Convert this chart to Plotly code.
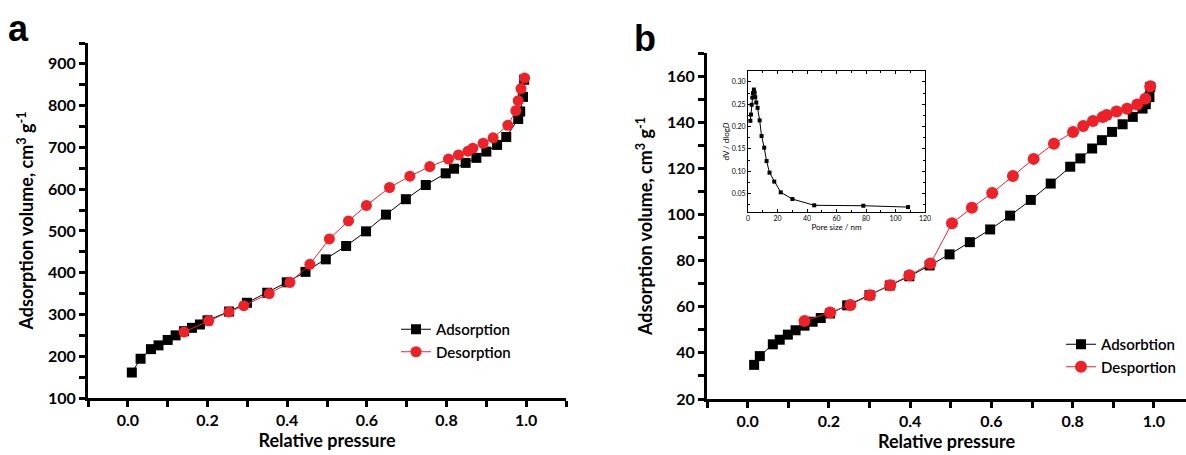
import plotly.graph_objects as go

# panel a: isotherm
a_ads_x = [0.010, 0.032, 0.058, 0.077, 0.100, 0.120, 0.141, 0.161, 0.181, 0.200, 0.254, 0.299, 0.350, 0.399,
           0.446, 0.497, 0.548, 0.598, 0.648, 0.698, 0.748, 0.798, 0.819, 0.848, 0.875, 0.900, 0.927, 0.950,
           0.980, 0.985, 0.992, 0.995]
a_ads_y = [161, 194, 217, 226, 239, 250, 260, 268, 276, 286, 307, 328, 352, 377,
           402, 432, 464, 499, 539, 576, 610, 638, 649, 663, 675, 690, 706, 725,
           768, 786, 821, 862]
a_des_x = [0.141, 0.203, 0.254, 0.291, 0.355, 0.407, 0.457, 0.506, 0.554, 0.599, 0.657, 0.708, 0.758,
           0.805, 0.830, 0.854, 0.866, 0.892, 0.917, 0.954, 0.974, 0.980, 0.987, 0.996]
a_des_y = [258, 285, 306, 321, 350, 377, 420, 481, 524, 561, 604, 631, 654,
           672, 682, 691, 698, 710, 723, 753, 788, 812, 841, 866]

# panel b: isotherm
b_ads_x = [0.016, 0.030, 0.062, 0.079, 0.099, 0.118, 0.140, 0.160, 0.180, 0.203, 0.245, 0.300, 0.350, 0.398,
           0.448, 0.497, 0.547, 0.597, 0.646, 0.697, 0.746, 0.794, 0.819, 0.848, 0.872, 0.897, 0.923, 0.948,
           0.972, 0.980, 0.989, 0.991]
b_ads_y = [34.8, 38.6, 43.7, 45.7, 47.9, 49.8, 51.8, 53.5, 55.1, 57.1, 60.6, 65.0, 69.2, 73.2,
           77.9, 82.7, 88.0, 93.5, 99.5, 106.3, 113.4, 120.7, 124.3, 128.6, 132.2, 135.8, 139.1, 142.3,
           145.9, 147.8, 150.9, 155.3]
b_des_x = [0.140, 0.203, 0.253, 0.301, 0.351, 0.398, 0.450, 0.503, 0.552, 0.602, 0.653, 0.704, 0.754,
           0.801, 0.826, 0.850, 0.874, 0.884, 0.908, 0.934, 0.959, 0.979, 0.991]
b_des_y = [53.8, 57.5, 60.8, 65.0, 69.3, 73.6, 78.7, 96.2, 102.9, 109.3, 116.7, 124.1, 130.7,
           135.8, 138.4, 140.5, 142.3, 143.1, 144.6, 145.8, 147.7, 150.2, 155.6]

# inset: pore size distribution
pore_size = [1.6, 2.0, 2.5, 2.9, 3.4, 4.0, 4.5, 4.9, 5.6, 6.5, 7.9, 9.2, 11.0, 12.6, 14.6, 17.8, 22.2,
             30.1, 44.9, 78.2, 108.5]
dv_dlogd = [0.213, 0.227, 0.249, 0.265, 0.275, 0.283, 0.276, 0.266, 0.254, 0.242, 0.214, 0.179, 0.153,
            0.123, 0.097, 0.077, 0.053, 0.038, 0.024, 0.023, 0.020]

RED = "#ee2028"
FONT = "Lato"
W, H = 1186, 455

fig = go.Figure()

fig.add_trace(go.Scatter(x=a_ads_x, y=a_ads_y, mode="lines+markers", name="Adsorption",
                         line=dict(color="black", width=1),
                         marker=dict(symbol="square", size=10, color="black"),
                         xaxis="x", yaxis="y", legend="legend"))
fig.add_trace(go.Scatter(x=a_des_x, y=a_des_y, mode="lines+markers", name="Desorption",
                         line=dict(color=RED, width=1),
                         marker=dict(symbol="circle", size=11, color=RED),
                         xaxis="x", yaxis="y", legend="legend"))
fig.add_trace(go.Scatter(x=b_ads_x, y=b_ads_y, mode="lines+markers", name="Adsorbtion",
                         line=dict(color="black", width=1),
                         marker=dict(symbol="square", size=10, color="black"),
                         xaxis="x2", yaxis="y2", legend="legend2"))
fig.add_trace(go.Scatter(x=b_des_x, y=b_des_y, mode="lines+markers", name="Desportion",
                         line=dict(color=RED, width=1),
                         marker=dict(symbol="circle", size=12, color=RED),
                         xaxis="x2", yaxis="y2", legend="legend2"))
fig.add_trace(go.Scatter(x=pore_size, y=dv_dlogd, mode="lines+markers", showlegend=False,
                         line=dict(color="black", width=1),
                         marker=dict(symbol="square", size=4, color="black"),
                         xaxis="x3", yaxis="y3"))

axis_common = dict(showline=True, linewidth=3, linecolor="black", ticks="outside", ticklen=6, tickwidth=3,
                   tickcolor="black", showgrid=False, zeroline=False, automargin=False,
                   tickfont=dict(family=FONT, size=16, color="black", weight="bold"))

title_font = dict(family=FONT, size=18, color="black", weight="bold")

fig.update_layout(
    width=W, height=H,
    margin=dict(l=0, r=0, t=0, b=0),
    paper_bgcolor="white", plot_bgcolor="white",
    xaxis=dict(domain=[88 / W, 566 / W], range=[-0.1, 1.1], dtick=0.2, tickformat=".1f",
               minor=dict(dtick=0.1, ticks="outside", ticklen=6, tickwidth=3, tickcolor="black"),
               title=dict(text="Relative pressure", font=title_font, standoff=4),
               anchor="y", **axis_common),
    yaxis=dict(domain=[(H - 398) / H, (H - 43) / H], range=[100, 950], tickvals=list(range(100, 901, 100)),
               minor=dict(dtick=50, ticks="outside", ticklen=6, tickwidth=3, tickcolor="black"),
               title=dict(text="Adsorption volume, cm<sup>3</sup> g<sup>-1</sup>", font=title_font, standoff=10),
               anchor="x", **axis_common),
    xaxis2=dict(domain=[707 / W, 1.0], range=[-0.1, 1.079], dtick=0.2, tickformat=".1f",
                minor=dict(dtick=0.1, ticks="outside", ticklen=6, tickwidth=3, tickcolor="black"),
                title=dict(text="Relative pressure", font=title_font, standoff=4),
                anchor="y2", **axis_common),
    yaxis2=dict(domain=[(H - 399) / H, (H - 53) / H], range=[20, 170], tickvals=list(range(20, 161, 20)),
                minor=dict(dtick=10, ticks="outside", ticklen=6, tickwidth=3, tickcolor="black"),
                title=dict(text="Adsorption volume, cm<sup>3</sup> g<sup>-1</sup>", font=title_font, standoff=10),
                anchor="x2", **axis_common),
    xaxis3=dict(domain=[748 / W, 925 / W], range=[0, 120], dtick=20, showline=True, linewidth=1,
                linecolor="black", mirror="ticks", ticks="inside", ticklen=3, tickwidth=1, tickcolor="black",
                minor=dict(dtick=10, ticks="inside", ticklen=2, tickcolor="black"),
                showgrid=False, zeroline=False, automargin=False,
                tickfont=dict(family=FONT, size=7, color="black"),
                title=dict(text="Pore size / nm", font=dict(family=FONT, size=8, color="black"), standoff=0),
                anchor="y3"),
    yaxis3=dict(domain=[(H - 212) / H, (H - 71) / H], range=[0.009, 0.3245],
                tickvals=[0.05, 0.10, 0.15, 0.20, 0.25, 0.30],
                tickformat=".2f", showline=True, linewidth=1,
                linecolor="black", mirror="ticks", ticks="inside", ticklen=3, tickwidth=1, tickcolor="black",
                minor=dict(dtick=0.025, ticks="inside", ticklen=2, tickcolor="black"),
                showgrid=False, zeroline=False, automargin=False,
                tickfont=dict(family=FONT, size=7, color="black"),
                title=dict(text="dV / dlog<i>D</i>", font=dict(family=FONT, size=8, color="black"), standoff=0),
                anchor="x3"),
    legend=dict(x=396 / W, y=(H - 313) / H, xanchor="left", yanchor="top", bgcolor="rgba(0,0,0,0)",
                font=dict(family=FONT, size=15, color="black", weight=600), tracegroupgap=0, itemwidth=30),
    legend2=dict(x=1061 / W, y=(H - 328) / H, xanchor="left", yanchor="top", bgcolor="rgba(0,0,0,0)",
                 font=dict(family=FONT, size=15, color="black", weight=600), tracegroupgap=0, itemwidth=30),
    annotations=[
        dict(text="<b>a</b>", x=6 / W, y=(H - 6) / H, xref="paper", yref="paper", showarrow=False,
             font=dict(family="Liberation Sans", size=36, color="black"), xanchor="left", yanchor="top"),
        dict(text="<b>b</b>", x=632 / W, y=(H - 16) / H, xref="paper", yref="paper", showarrow=False,
             font=dict(family="Liberation Sans", size=36, color="black"), xanchor="left", yanchor="top"),
    ],
)

# the page body has a default 8px margin; drop it so the figure fills the window exactly
fig.write_html("out.html", config={"displayModeBar": False},
               post_script="document.body.style.margin='0';")
